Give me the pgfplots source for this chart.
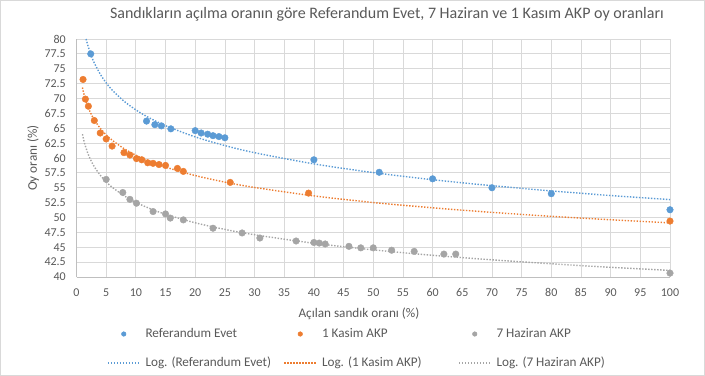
\documentclass[border=0pt]{standalone}
\usepackage{pgfplots}
\pgfplotsset{compat=1.18}
\usepackage{fontspec}
\setmainfont{Carlito}
\definecolor{txt}{HTML}{595959}
\definecolor{gridc}{HTML}{D9D9D9}
\definecolor{axc}{HTML}{BFBFBF}
\definecolor{cblue}{HTML}{5B9BD5}
\definecolor{corange}{HTML}{ED7D31}
\definecolor{cgray}{HTML}{A5A5A5}
\begin{document}
\begin{tikzpicture}
\path[use as bounding box] (0,0) rectangle (705bp,376bp);
\draw[gridc, line width=0.75bp] (0.4bp,0.4bp) rectangle (704.6bp,375.6bp);
\begin{axis}[
  at={(76.5bp,99bp)}, anchor=south west,
  scale only axis, width=593.5bp, height=238bp,
  xmin=0, xmax=100, ymin=40, ymax=80,
  xtick distance=5, ytick distance=2.5,
  grid=major, major grid style={gridc, line width=0.75bp},
  axis x line*=bottom, axis y line*=left,
  axis line style={axc, line width=0.75bp, -},
  major tick length=0pt,
  clip=false,
  font=\fontsize{12bp}{14bp}\selectfont,
  tick label style={color=txt, font=\fontsize{12bp}{14bp}\selectfont, /pgf/number format/assume math mode=true},
  xticklabel style={inner sep=0pt, anchor=north, yshift=-11.5bp},
  yticklabel style={inner sep=0pt, anchor=east, xshift=-10.5bp, /pgf/number format/.cd, fixed, precision=1, assume math mode=true},
  title={Sandıkların açılma oranın göre Referandum Evet, 7 Haziran ve 1 Kasım AKP oy oranları},
  title style={at={(axis description cs:0.523,1.08)}, anchor=center, inner sep=0pt, color=txt, font=\fontsize{16bp}{19bp}\selectfont},
  xlabel={Açılan sandık oranı (\%)},
  xlabel style={at={(axis description cs:0.476,-0.154)}, anchor=center, inner sep=0pt, color=txt, font=\fontsize{13.2bp}{15bp}\selectfont},
  ylabel={Oy oranı (\%)},
  ylabel style={at={(axis description cs:-0.0733,0.5)}, anchor=center, inner sep=0pt, color=txt, font=\fontsize{13.2bp}{15bp}\selectfont},
  legend columns=3,
  legend cell align=left,
  legend style={at={(axis description cs:0.0514,-0.2118)}, anchor=north west, draw=none, fill=none, inner sep=0pt, outer sep=0pt, column sep=5bp, row sep=16bp,
    nodes={inner sep=0pt, text height=10bp, text depth=3.2bp, text=txt, font=\fontsize{13.2bp}{15bp}\selectfont}},
  scat/.style={only marks, mark=*, mark size=3.3bp, draw=#1, fill=#1,
    legend image code/.code={\path (0bp,0bp) (32bp,0bp); \draw[##1, mark size=2.3bp] plot coordinates {(16bp,0bp)};}},
  trend/.style={no marks, smooth, draw=#1, line width=1.4bp, dash pattern=on 1.4bp off 1.6bp,
    legend image code/.code={\draw[##1, line width=1.5bp] (0bp,0bp) -- (32bp,0bp);}},
]
\addplot[scat=cblue] coordinates {
(2.4,77.5) (11.8,66.2) (13.2,65.6) (14.3,65.4) (15.9,64.9) (20.0,64.6) (21.0,64.2) (22.1,64.0) (23.0,63.75) (24.0,63.6) (25.0,63.4) (40,59.7) (51,57.6) (60,56.5) (70,55.0) (80,54.0) (100,51.3)
};
\addlegendentry{\makebox[133bp][l]{Referandum Evet}}
\addplot[scat=corange] coordinates {
(1.1,73.2) (1.5,69.9) (2.0,68.7) (3.0,66.3) (4.0,64.2) (5.0,63.2) (6.0,62.0) (8.0,60.9) (9.0,60.5) (10.1,59.9) (11.0,59.7) (12.0,59.2) (12.9,59.1) (13.9,58.9) (15.0,58.75) (17.0,58.25) (18.0,57.75) (25.9,55.9) (39.1,54.1) (100,49.4)
};
\addlegendentry{\makebox[131bp][l]{1 Kasim AKP}}
\addplot[scat=cgray] coordinates {
(5.0,56.4) (7.8,54.2) (9.0,53.05) (10.1,52.4) (12.9,51.0) (15.0,50.6) (15.8,49.9) (18.0,49.6) (23.0,48.2) (27.9,47.4) (30.9,46.55) (37.0,46.05) (40.0,45.8) (40.9,45.7) (41.9,45.55) (45.9,45.15) (47.9,44.9) (50.0,44.9) (53.1,44.5) (56.9,44.3) (61.9,43.85) (63.9,43.85) (100,40.65)
};
\addlegendentry{7 Haziran AKP}
\addplot[trend=cblue] coordinates {
(1.62,80.0) (1.8,79.32) (2,78.63) (2.5,77.17) (3,75.97) (4,74.09) (5,72.63) (6,71.43) (8,69.55) (10,68.09) (12,66.89) (15,65.43) (20,63.55) (25,62.09) (30,60.89) (40,59.01) (50,57.55) (60,56.35) (70,55.35) (80,54.47) (90,53.69) (100,53.01)
};
\addlegendentry{\makebox[133bp][l]{Log. (Referandum Evet)}}
\addplot[trend=corange] coordinates {
(1,71.85) (1.25,70.75) (1.5,69.85) (2,68.43) (2.5,67.32) (3,66.42) (4,65.00) (5,63.90) (6,63.00) (8,61.58) (10,60.47) (12,59.57) (15,58.47) (20,57.05) (25,55.95) (30,55.05) (40,53.63) (50,52.52) (60,51.63) (70,50.86) (80,50.20) (90,49.62) (100,49.10)
};
\addlegendentry{\makebox[131bp][l]{Log. (1 Kasim AKP)}}
\addplot[trend=cgray] coordinates {
(1,64.0) (1.25,62.89) (1.5,61.99) (2,60.56) (2.5,59.45) (3,58.54) (4,57.11) (5,56.00) (6,55.09) (8,53.67) (10,52.55) (12,51.65) (15,50.54) (20,49.11) (25,48.00) (30,47.10) (40,45.67) (50,44.56) (60,43.65) (70,42.89) (80,42.22) (90,41.63) (100,41.11)
};
\addlegendentry{Log. (7 Haziran AKP)}
\end{axis}
\end{tikzpicture}
\end{document}
